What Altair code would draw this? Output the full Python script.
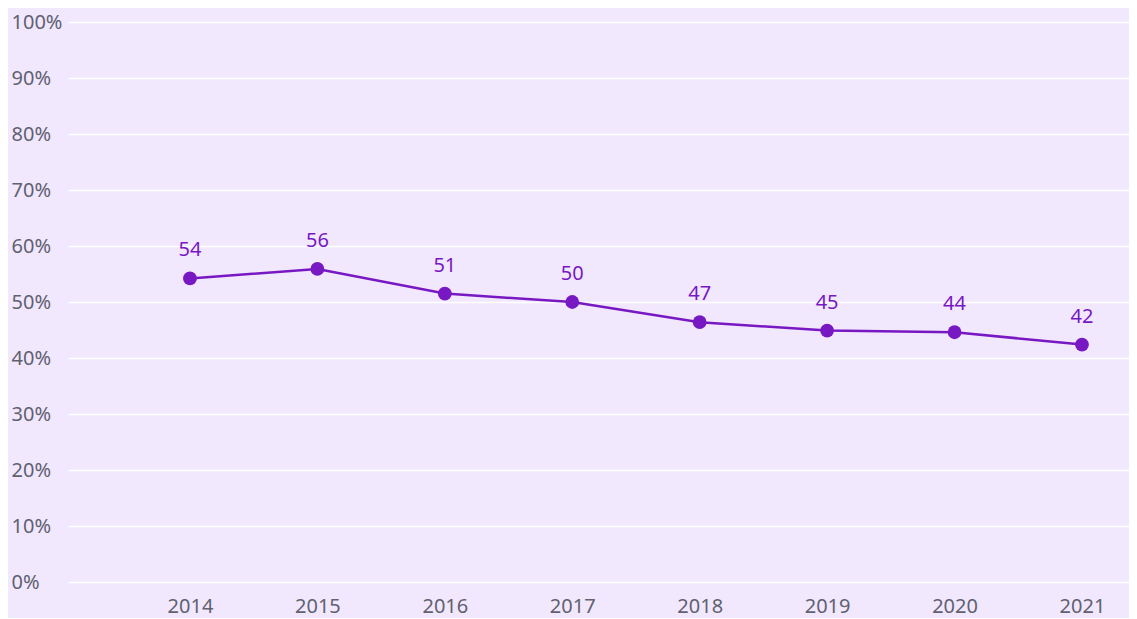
import altair as alt
import pandas as pd

years = [2014, 2015, 2016, 2017, 2018, 2019, 2020, 2021]
values = [54.2, 55.9, 51.5, 50.0, 46.4, 44.9, 44.6, 42.4]
labels = ["54", "56", "51", "50", "47", "45", "44", "42"]

df = pd.DataFrame({"year": years, "value": values, "label": labels})

PURPLE = "#7818c2"
GREY = "#616170"
FONT = "Noto Sans"

x = alt.X("year:Q", scale=alt.Scale(domain=[2013.043, 2021.369], nice=False, zero=False),
          axis=alt.Axis(values=years, format="d", grid=False, ticks=False, domain=False,
                        labelFontSize=20, labelColor=GREY, labelFont=FONT, labelPadding=14,
                        labelFlush=False, title=None))
y = alt.Y("value:Q", scale=alt.Scale(domain=[0, 100], nice=False),
          axis=alt.Axis(values=list(range(0, 101, 10)), labelExpr="datum.value + '%'",
                        grid=True, gridColor="#ffffff", gridWidth=1.5, ticks=False, domain=False,
                        labelFontSize=20, labelColor=GREY, labelFont=FONT, labelAlign="left",
                        labelPadding=57, title=None))

base = alt.Chart(df)
line = base.mark_line(color=PURPLE, strokeWidth=2.5).encode(x=x, y=y)
pts = base.mark_circle(color=PURPLE, size=190, opacity=1).encode(x=x, y=y)
txt = base.mark_text(color=PURPLE, font=FONT, fontSize=20, dy=-28, baseline="middle").encode(
    x=x, y=y, text="label:N")

chart = (line + pts + txt).properties(
    width=1061, height=560,
    background="#f1e8fe",
    padding={"left": 60, "top": 14, "right": 0, "bottom": 36},
    autosize=alt.AutoSizeParams(type="none"),
).configure_view(stroke=None)

chart.save("out.html", embed_options={"renderer": "svg", "actions": False})
